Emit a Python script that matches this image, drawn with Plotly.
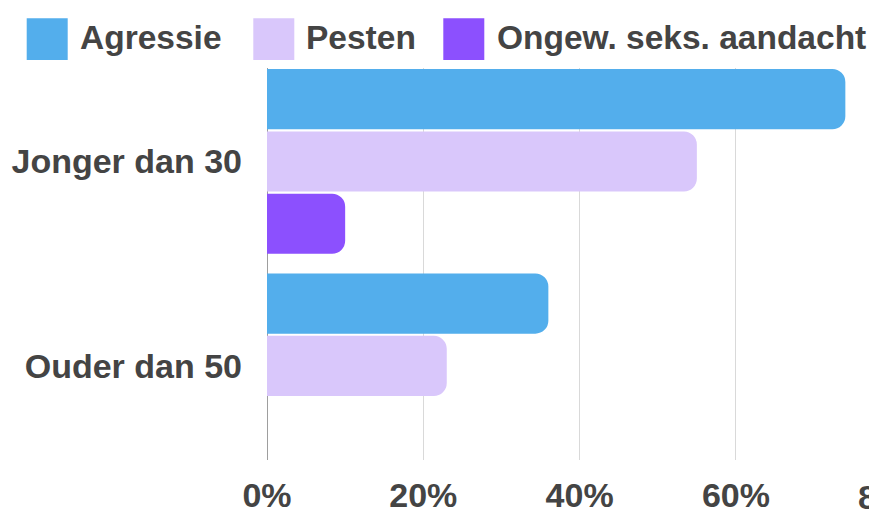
import plotly.graph_objects as go

# ---- data ----
categories = ["Jonger dan 30", "Ouder dan 50"]
series_names = ["Agressie", "Pesten", "Ongew. seks. aandacht"]
agressie = [74, 36]
pesten = [55, 23]
ongewenst = [10, 0]
x_tick_values = [0, 20, 40, 60, 80]
x_tick_labels = ["0%", "20%", "40%", "60%", "80%"]

# ---- style ----
colors = ["#53AEEC", "#D9C7FB", "#8C50FE"]
OFF = 8  # default page body margin of the html page
PAGE_W, PAGE_H = 877, 516
W, H = PAGE_W - OFF, PAGE_H - OFF
ML, MR, MT, MB = 267 - OFF, 0, 68 - OFF, 56
FONT = "Liberation Sans, Arial, sans-serif"
TXT = "#444444"
FS = 34
X_MAX = 78.05

PW = W - ML - MR
PH = H - MT - MB


def px_x(page_px):
    return (page_px - OFF - ML) / PW


def px_y(page_py):
    return (H - MB - (page_py - OFF)) / PH


fig = go.Figure()
for name, vals, col in zip(series_names, [agressie, pesten, ongewenst], colors):
    fig.add_trace(go.Bar(
        y=categories, x=vals, name=name, orientation="h",
        marker=dict(color=col, cornerradius=13, line=dict(width=0)),
        showlegend=False,
    ))

# custom legend (large square swatches like the reference)
swatch_left = [26.7, 253.3, 443.3]
text_left = [78, 303.5, 494.5]
shapes = []
annotations = []
for name, col, sx, tx in zip(series_names, colors, swatch_left, text_left):
    shapes.append(dict(
        type="rect", xref="paper", yref="paper",
        x0=px_x(sx), x1=px_x(sx + 41), y0=px_y(60), y1=px_y(18.3),
        fillcolor=col, line=dict(width=0), layer="above",
    ))
    annotations.append(dict(
        xref="paper", yref="paper", x=px_x(tx), y=px_y(37),
        xanchor="left", yanchor="middle", text=name, showarrow=False,
        font=dict(family=FONT, size=33.5, color=TXT, weight="bold"),
    ))

# last tick label, partly outside the visible figure like in the reference
annotations.append(dict(
    xref="paper", yref="paper", x=x_tick_values[-1] / X_MAX, y=0, yanchor="top",
    xanchor="center", yshift=-16, text=x_tick_labels[-1], showarrow=False,
    font=dict(family=FONT, size=FS, color=TXT, weight="bold"),
))

fig.update_layout(
    width=W, height=H,
    margin=dict(l=ML, r=MR, t=MT, b=MB, pad=0),
    paper_bgcolor="white", plot_bgcolor="white",
    barmode="group", bargap=0.0856, bargroupgap=0.035,
    font=dict(family=FONT, size=FS, color=TXT),
    shapes=shapes, annotations=annotations,
    showlegend=False,
)
fig.update_xaxes(
    range=[0, X_MAX], tickvals=x_tick_values, ticktext=x_tick_labels,
    showgrid=True, gridcolor="#d9d9d9", gridwidth=1,
    zeroline=True, zerolinecolor="#9e9e9e", zerolinewidth=1,
    showline=False, ticks="", ticklabelstandoff=12,
    tickfont=dict(family=FONT, size=FS, color=TXT, weight="bold"),
    fixedrange=True,
)
fig.update_yaxes(
    type="category", range=[1.46, -0.457],
    showgrid=False, zeroline=False, showline=False, ticks="",
    ticklabelstandoff=24,
    tickfont=dict(family=FONT, size=FS, color=TXT, weight="bold"),
    fixedrange=True,
)

fig.write_html("out.html")
